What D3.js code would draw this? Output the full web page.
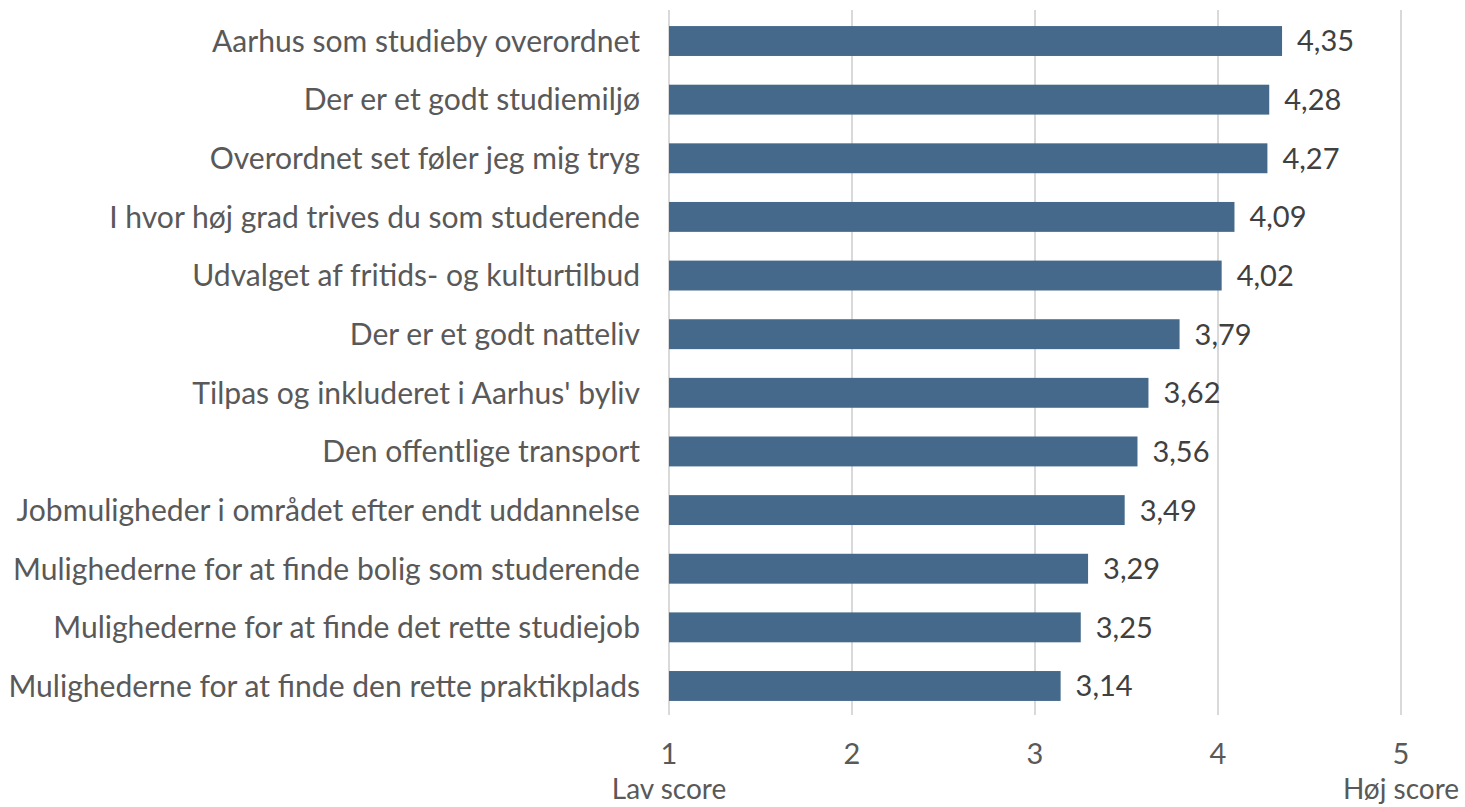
<!DOCTYPE html>
<html>
<head>
<meta charset="utf-8">
<script src="https://cdn.jsdelivr.net/npm/d3@7"></script>
<style>
  body { margin: 0; background: #fff; }
  text { font-family: Lato, "Open Sans", sans-serif; }
</style>
</head>
<body>
<div id="chart"></div>
<script>
const width = 1465;
const height = 807;

const categories = [
    "Aarhus som studieby overordnet",
    "Der er et godt studiemiljø",
    "Overordnet set føler jeg mig tryg",
    "I hvor høj grad trives du som studerende",
    "Udvalget af fritids- og kulturtilbud",
    "Der er et godt natteliv",
    "Tilpas og inkluderet i Aarhus' byliv",
    "Den offentlige transport",
    "Jobmuligheder i området efter endt uddannelse",
    "Mulighederne for at finde bolig som studerende",
    "Mulighederne for at finde det rette studiejob",
    "Mulighederne for at finde den rette praktikplads"
];
const scores = [4.35, 4.28, 4.27, 4.09, 4.02, 3.79, 3.62, 3.56, 3.49, 3.29, 3.25, 3.14];
const ticks = [1, 2, 3, 4, 5];
const axisNotes = [{ at: 1, text: "Lav score" }, { at: 5, text: "Høj score" }];

const svg = d3.select("#chart").append("svg")
    .attr("width", width)
    .attr("height", height);

const x = d3.scaleLinear().domain([1, 5]).range([669, 1401]);
const y = d3.scaleBand().domain(categories).range([11.7, 715.3])
    .paddingInner(0.49).paddingOuter(0.245);

const fmt = v => d3.format(".2f")(v).replace(".", ",");

// gridlines
svg.append("g").selectAll("line").data(ticks).join("line")
    .attr("x1", d => x(d)).attr("x2", d => x(d))
    .attr("y1", 10).attr("y2", 715)
    .attr("stroke", "#d9d9d9").attr("stroke-width", 2);

// bars
svg.append("g").selectAll("rect").data(categories).join("rect")
    .attr("x", x(1))
    .attr("y", d => y(d))
    .attr("width", (d, i) => x(scores[i]) - x(1))
    .attr("height", y.bandwidth())
    .attr("fill", "#44698a");

// value labels
svg.append("g").selectAll("text").data(categories).join("text")
    .attr("x", (d, i) => x(scores[i]) + 15)
    .attr("y", d => y(d) + y.bandwidth() / 2)
    .attr("dy", "0.36em")
    .attr("fill", "#404040")
    .style("font-size", "29px")
    .text((d, i) => fmt(scores[i]));

// category labels
const catLabels = svg.append("g").selectAll("text").data(categories).join("text")
    .attr("x", 640)
    .attr("y", d => y(d) + y.bandwidth() / 2)
    .attr("dy", "0.36em")
    .attr("text-anchor", "end")
    .attr("fill", "#595959")
    .style("font-size", "26px")
    .text(d => d);

// fit longest label to the reference width (~632px)
let maxW = 0;
catLabels.each(function() { maxW = Math.max(maxW, this.getComputedTextLength()); });
const fs = 26 * 632 / maxW;
catLabels.style("font-size", fs + "px");

// x tick labels
svg.append("g").selectAll("text").data(ticks).join("text")
    .attr("x", d => x(d))
    .attr("y", 754)
    .attr("dy", "0.36em")
    .attr("text-anchor", "middle")
    .attr("fill", "#595959")
    .style("font-size", "29px")
    .text(d => d);

svg.append("g").selectAll("text").data(axisNotes).join("text")
    .attr("x", d => x(d.at))
    .attr("y", 789)
    .attr("dy", "0.36em")
    .attr("text-anchor", "middle")
    .attr("fill", "#595959")
    .style("font-size", "28px")
    .text(d => d.text);
</script>
</body>
</html>
